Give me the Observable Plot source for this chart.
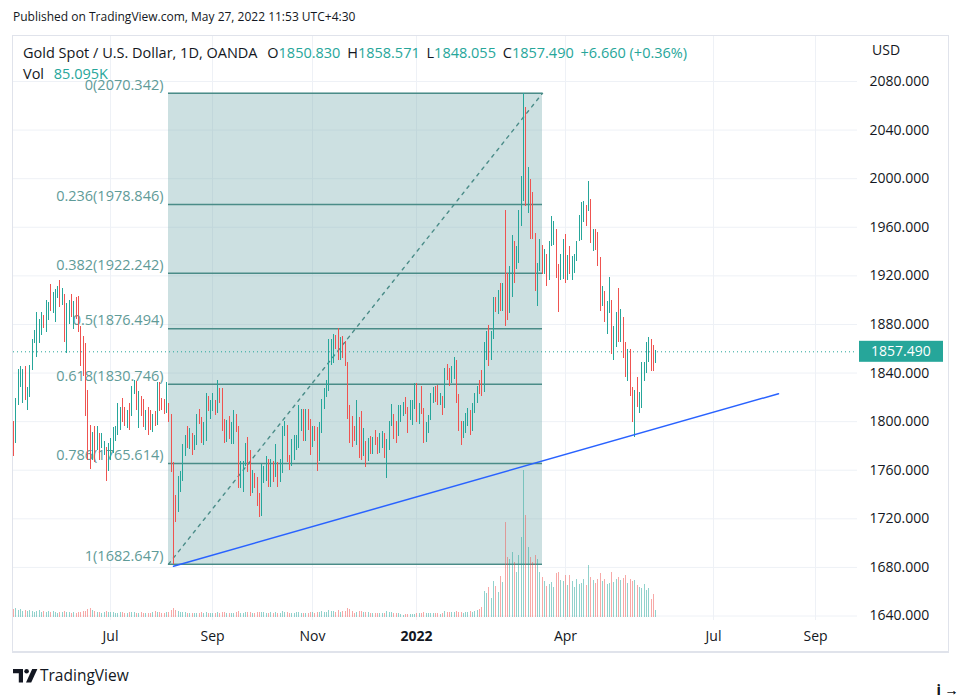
<!DOCTYPE html>
<html><head><meta charset="utf-8">
<script src="https://cdn.jsdelivr.net/npm/d3@7"></script>
<script src="https://cdn.jsdelivr.net/npm/@observablehq/plot@0.6"></script>
<style>
html,body{margin:0;background:#fff;font-family:"Open Sans",sans-serif;color:#131722;overflow:hidden;}
#wrap{position:relative;width:961px;height:697px;overflow:hidden;background:#fff;}
#wrap svg{position:absolute;left:0;top:0;}
.abs{position:absolute;white-space:nowrap;line-height:1;}
.tv{color:#26a69a;}
</style></head><body><div id="wrap"></div>
<script>
// ---------- data ----------
const firstDay = "2021-05-04", lastDay = "2022-09-30";
const closedDays = ["2022-04-15"];
const monthKeys   = ["2021-07","2021-09","2021-11","2022-01","2022-04","2022-07","2022-09"];
const monthLabels = ["Jul","Sep","Nov","2022","Apr","Jul","Sep"];
const priceTicks = [1640,1680,1720,1760,1800,1840,1880,1920,1960,2000,2040,2080];

const open = [
/*May21*/1792,1783,1815,1836,1820,1838,1815,1825,1843,1866,1862,1868,1877,1884,1880,1888,1900,1894,1890,1903,
/*Jun21*/1908,1900,1905,1870,1890,1898,1888,1896,1900,1877,1866,1858,1812,1774,1770,1783,1779,1789,1779,1775,1779,1761,
/*Jul21*/1770,1777,1787,1792,1797,1806,1810,1800,1810,1808,1826,1829,1812,1813,1811,1803,1806,1802,1797,1803,1799,1828,
/*Aug21*/1816,1813,1810,1813,1804,1763,1734,1729,1752,1753,1779,1787,1786,1788,1780,1782,1805,1802,1790,1793,1817,1810,
/*Sep21*/1814,1815,1810,1827,1823,1795,1789,1795,1787,1794,1805,1794,1754,1754,1764,1774,1768,1743,1751,1750,1734,1726,
/*Oct21*/1757,1761,1769,1760,1762,1757,1758,1754,1760,1793,1797,1767,1765,1769,1782,1784,1793,1807,1793,1800,1799,
/*Nov21*/1783,1793,1788,1769,1792,1816,1824,1832,1850,1862,1865,1863,1852,1867,1858,1846,1805,1790,1789,1787,1802,1785,
/*Dec21*/1774,1783,1768,1783,1778,1785,1783,1776,1782,1787,1772,1777,1799,1805,1792,1789,1803,1808,1811,1810,1805,1806,1815,
/*Jan22*/1829,1801,1814,1810,1789,1797,1802,1822,1826,1821,1817,1819,1813,1843,1839,1835,1843,1848,1819,1797,1791,
/*Feb22*/1796,1801,1807,1804,1807,1820,1832,1828,1827,1859,1869,1855,1871,1898,1897,1906,1898,1910,1903,1889,
/*Mar22*/1909,1943,1930,1936,1970,1998,2050,1993,1999,1988,1954,1918,1928,1943,1921,1936,1921,1944,1955,1955,1923,1919,1933,
/*Apr22*/1937,1925,1933,1923,1925,1934,1950,1954,1967,1977,1974,1979,1950,1957,1951,1932,1898,1905,1885,1894,
/*May22*/1897,1863,1868,1881,1876,1883,1854,1838,1852,1822,1811,1824,1814,1816,1841,1846,1853,1866,1853,1850.830
];
const high = [
/*May21*/1800,1819,1843,1845,1843,1845,1828,1846,1868,1875,1890,1884,1890,1887,1900,1898,1913,1906,1909,1911,
/*Jun21*/1916,1910,1905,1897,1900,1905,1899,1902,1903,1878,1870,1864,1826,1797,1791,1796,1796,1790,1790,1784,1779,1782,
/*Jul21*/1786,1795,1796,1815,1812,1819,1812,1809,1815,1829,1834,1833,1825,1821,1818,1809,1812,1809,1806,1808,1832,1832,
/*Aug21*/1819,1818,1832,1815,1806,1766,1739,1755,1759,1781,1789,1796,1794,1790,1789,1806,1810,1803,1799,1823,1821,1817,
/*Sep21*/1823,1817,1834,1827,1827,1802,1801,1804,1799,1809,1806,1796,1767,1767,1782,1787,1776,1760,1757,1754,1741,1765,
/*Oct21*/1763,1771,1769,1769,1767,1781,1766,1769,1796,1800,1797,1772,1785,1789,1789,1813,1810,1810,1810,1810,1802,
/*Nov21*/1796,1796,1795,1799,1818,1827,1834,1868,1868,1872,1871,1877,1869,1870,1866,1849,1813,1804,1796,1817,1803,1808,
/*Dec21*/1794,1784,1786,1788,1787,1793,1787,1790,1792,1790,1785,1800,1814,1806,1800,1813,1813,1816,1820,1812,1817,1817,1831,
/*Jan22*/1831,1815,1829,1811,1799,1805,1823,1828,1829,1830,1823,1821,1844,1847,1844,1845,1853,1850,1822,1800,1800,
/*Feb22*/1807,1811,1809,1815,1823,1829,1834,1842,1865,1874,1879,1874,1902,1902,1908,1914,1914,1974,1922,1928,
/*Mar22*/1953,1948,1944,1974,2002,2070.342,2059,2009,1999,1989,1955,1930,1950,1945,1942,1938,1948,1969,1965,1958,1929,1938,1950,
/*Apr22*/1954,1937,1944,1936,1938,1948,1970,1980,1981,1978,1998,1983,1958,1958,1956,1935,1911,1907,1899,1919,
/*May22*/1900,1878,1890,1910,1892,1886,1865,1859,1859,1828,1826,1836,1824,1849,1849,1865,1869,1868,1863,1858.571
];
const low = [
/*May21*/1771,1782,1813,1828,1815,1817,1809,1820,1842,1864,1853,1864,1871,1877,1873,1883,1891,1889,1882,1901,
/*Jun21*/1894,1896,1865,1856,1880,1886,1876,1884,1873,1845,1837,1804,1768,1761,1768,1766,1776,1768,1778,1772,1751,1759,
/*Jul21*/1768,1774,1784,1789,1793,1799,1796,1794,1793,1804,1822,1809,1794,1804,1795,1793,1789,1793,1791,1796,1797,1808,
/*Aug21*/1809,1806,1807,1799,1758,1682.647,1717,1725,1742,1751,1771,1778,1777,1772,1776,1780,1798,1782,1780,1784,1808,1802,
/*Sep21*/1808,1805,1807,1815,1792,1782,1783,1785,1781,1781,1791,1745,1745,1742,1763,1758,1738,1741,1745,1730,1721,1722,
/*Oct21*/1749,1751,1746,1746,1750,1754,1746,1750,1757,1788,1766,1760,1763,1768,1776,1778,1792,1784,1784,1793,1772,
/*Nov21*/1779,1784,1759,1767,1790,1810,1820,1825,1846,1848,1859,1850,1850,1852,1845,1802,1782,1779,1784,1780,1770,1768,
/*Dec21*/1771,1762,1767,1773,1773,1780,1773,1774,1778,1770,1753,1776,1796,1785,1782,1788,1799,1804,1806,1790,1801,1797,1810,
/*Jan22*/1799,1798,1806,1782,1783,1790,1801,1815,1816,1813,1813,1805,1811,1834,1829,1831,1835,1815,1792,1780,1786,
/*Feb22*/1790,1796,1789,1792,1807,1815,1822,1821,1824,1850,1845,1850,1868,1890,1888,1891,1891,1878,1883,1889,
/*Mar22*/1902,1914,1925,1930,1961,1981,1977,1971,1950,1950,1907,1895,1924,1921,1921,1911,1916,1944,1945,1918,1890,1916,1917,
/*Apr22*/1914,1916,1921,1916,1922,1932,1948,1949,1964,1961,1973,1947,1940,1941,1928,1891,1895,1882,1872,1889,
/*May22*/1855,1850,1861,1865,1865,1852,1836,1833,1821,1799,1787,1812,1807,1811,1833,1840,1849,1841,1841,1848.055
];
const close = [
/*May21*/1779,1815,1838,1843,1838,1822,1825,1843,1866,1869,1881,1878,1884,1880,1897,1896,1895,1903,1905,1908,
/*Jun21*/1900,1908,1870,1891,1898,1892,1896,1890,1877,1866,1858,1812,1774,1764,1783,1779,1789,1776,1781,1780,1761,1770,
/*Jul21*/1777,1787,1792,1797,1803,1802,1808,1806,1807,1826,1829,1812,1813,1811,1803,1806,1802,1797,1799,1799,1828,1814,
/*Aug21*/1813,1810,1813,1804,1763,1729,1729,1752,1753,1779,1787,1786,1788,1780,1782,1805,1802,1790,1793,1817,1810,1814,
/*Sep21*/1815,1810,1827,1823,1795,1789,1795,1787,1794,1805,1794,1754,1754,1764,1774,1768,1743,1751,1750,1734,1726,1757,
/*Oct21*/1761,1769,1760,1762,1757,1758,1754,1760,1793,1797,1767,1765,1769,1782,1784,1793,1807,1793,1798,1799,1783,
/*Nov21*/1793,1788,1769,1792,1816,1824,1832,1850,1862,1865,1863,1852,1867,1858,1846,1805,1790,1789,1787,1802,1785,1774,
/*Dec21*/1783,1768,1783,1778,1785,1783,1776,1782,1787,1772,1777,1799,1805,1792,1789,1803,1808,1811,1810,1805,1806,1815,1829,
/*Jan22*/1801,1814,1810,1789,1797,1802,1822,1826,1821,1817,1819,1813,1843,1839,1835,1843,1848,1819,1797,1791,1796,
/*Feb22*/1801,1807,1804,1807,1820,1826,1828,1827,1859,1869,1855,1871,1898,1897,1906,1898,1910,1903,1889,1909,
/*Mar22*/1943,1922,1936,1970,1998,2050,1993,2000,1988,1954,1918,1928,1943,1921,1936,1921,1944,1958,1959,1923,1919,1933,1937,
/*Apr22*/1925,1933,1923,1925,1931,1946,1954,1967,1977,1974,1979,1950,1957,1951,1932,1898,1905,1885,1894,1897,
/*May22*/1863,1868,1881,1876,1883,1854,1838,1852,1822,1811,1824,1814,1816,1841,1846,1853,1866,1853,1850.830,1857.490
];
// volume, thousands
const volume = [
/*May21*/98,110,86,94,74,83,71,85,76,62,73,86,63,70,58,74,61,69,57,50,
/*Jun21*/61,63,72,59,57,49,58,51,62,60,71,74,99,112,86,70,62,58,49,60,73,64,
/*Jul21*/60,57,45,52,58,61,49,47,57,62,59,51,47,56,48,50,47,49,61,72,58,55,
/*Aug21*/48,46,59,56,88,110,86,71,60,58,55,50,47,49,46,44,47,56,48,57,45,47,
/*Sep21*/49,47,60,44,58,55,49,46,48,45,57,73,52,48,58,56,60,47,50,62,59,56,
/*Oct21*/55,48,47,57,46,60,49,45,70,58,59,46,48,47,56,60,49,47,45,48,57,
/*Nov21*/58,49,62,59,73,57,56,84,72,70,58,82,60,68,70,108,94,72,46,58,72,74,
/*Dec21*/61,58,57,48,47,49,45,48,47,46,70,58,55,47,45,44,36,28,35,33,31,34,36,
/*Jan22*/47,49,46,58,47,48,46,47,45,46,38,47,68,58,55,58,60,73,62,57,49,
/*Feb22*/55,58,70,60,72,80,95,120,318,290,365,232,440,378,305,500,428,1160,730,708,
/*Mar22*/795,670,550,760,980,1790,1245,855,730,670,756,708,550,488,440,378,403,427,366,537,549,451,440,
/*Apr22*/512,390,512,440,366,464,403,415,464,390,634,488,451,415,464,537,440,464,403,415,
/*May22*/549,427,464,488,451,476,512,415,464,440,451,390,366,354,403,330,354,220,280,85.095
];

const fibRatios = [0, 0.236, 0.382, 0.5, 0.618, 0.786, 1];
const fibPrices = [2070.342, 1978.846, 1922.242, 1876.494, 1830.746, 1765.614, 1682.647];
const fibDates  = ["2021-08-05", "2022-03-18"];
const trendDates  = ["2021-08-09", "2022-08-10"];
const trendPrices = [1681, 1823];

// ---------- trading-day axis ----------
const tradingDays = [];
for (let d = new Date(firstDay + "T00:00:00Z"); d <= new Date(lastDay + "T00:00:00Z"); d.setUTCDate(d.getUTCDate() + 1)) {
  const wd = d.getUTCDay(), iso = d.toISOString().slice(0, 10);
  if (wd !== 0 && wd !== 6 && !closedDays.includes(iso)) tradingDays.push(iso);
}
const idxOf = new Map(tradingDays.map((d, i) => [d, i]));
const bars = open.map((o, i) => ({i, date: tradingDays[i], open: o, high: high[i], low: low[i], close: close[i], volume: volume[i]}));
const tickIdx = monthKeys.map(m => tradingDays.findIndex(d => d.startsWith(m)));
const labelOf = new Map(tickIdx.map((t, j) => [t, monthLabels[j]]));
const boldTicks = tickIdx.filter(t => labelOf.get(t) === "2022");
const normTicks = tickIdx.filter(t => labelOf.get(t) !== "2022");

const fi0 = idxOf.get(fibDates[0]), fi1 = idxOf.get(fibDates[1]);
const fibLevels = fibRatios.map((r, j) => ({ratio: r, price: fibPrices[j]}));
const fibDiag = [{i: fi0, p: fibPrices[6]}, {i: fi1, p: fibPrices[0]}];
const trend = trendDates.map((d, j) => ({i: idxOf.get(d), p: trendPrices[j]}));

const teal = "#26a69a", red = "#ef5350";
const candleColor = d => d.close >= d.open ? teal : red;
const last = bars[bars.length - 1], prev = bars[bars.length - 2];
const f3 = d3.format(".3f");

const xOpt = {type: "linear", domain: [-0.06, 364.05], round: true, axis: null};

const main = Plot.plot({
  width: 961, height: 697, marginLeft: 13, marginRight: 104, marginTop: 35, marginBottom: 77,
  style: {fontFamily: "Open Sans", fontSize: "14px", color: "#131722", background: "transparent", overflow: "visible"},
  x: xOpt,
  y: {domain: [1636.3, 2117.87], axis: null},
  marks: [
    Plot.gridY(priceTicks, {stroke: "#eef1f6", strokeOpacity: 1}),
    Plot.gridX(tickIdx, {stroke: "#eef1f6", strokeOpacity: 1}),
    Plot.rect([0], {x1: () => fi0, x2: () => fi1, y1: () => fibPrices[6], y2: () => fibPrices[0], fill: "#7fb1b3", fillOpacity: 0.4}),
    Plot.ruleY(fibLevels, {y: "price", x1: () => fi0, x2: () => fi1, stroke: "#4a8c88", strokeWidth: 1.5}),
    Plot.text(fibLevels, {x: () => fi0, y: "price", text: d => `${d.ratio}(${f3(d.price)})`, textAnchor: "end", dx: -5, dy: -8, fill: "#5f9b98", fontSize: 14.5}),
    Plot.line(fibDiag, {x: "i", y: "p", stroke: "#4a8c88", strokeWidth: 1.4, strokeDasharray: "3,5"}),
    Plot.ruleY([last.close], {stroke: teal, strokeWidth: 1, strokeDasharray: "1,3"}),
    Plot.ruleX(bars, {x: "i", y1: "low", y2: "high", stroke: candleColor, strokeWidth: 1, shapeRendering: "crispEdges"}),
    Plot.line(trend, {x: "i", y: "p", stroke: "#2962ff", strokeWidth: 1.5}),
    Plot.axisY(priceTicks, {anchor: "right", tickSize: 0, tickPadding: 12, tickFormat: f3, fontSize: 14, fill: "#131722"}),
    Plot.axisX(normTicks, {anchor: "bottom", tickSize: 0, tickPadding: 11, tickFormat: d => labelOf.get(d), fontSize: 14, fill: "#131722"}),
    Plot.axisX(boldTicks, {anchor: "bottom", tickSize: 0, tickPadding: 11, tickFormat: d => labelOf.get(d), fontSize: 14, fontWeight: "bold", fill: "#131722"})
  ]
});

// last-price tag on the price axis, positioned through the y scale
const yy = main.scale("y").apply(last.close);
const ms = d3.select(main);
ms.append("rect").attr("x", 859).attr("y", yy - 10.5).attr("width", 84).attr("height", 21).attr("fill", teal);
ms.append("text").attr("x", 871).attr("y", yy).attr("dy", "0.36em").attr("fill", "#fff")
  .attr("text-anchor", "start").attr("font-family", "Open Sans").attr("font-size", 14).text(f3(last.close));

const vol = Plot.plot({
  width: 961, height: 697, marginLeft: 13, marginRight: 104, marginTop: 453, marginBottom: 80,
  style: {background: "transparent", overflow: "visible"},
  x: xOpt,
  y: {domain: [0, 2000], axis: null},
  marks: [
    Plot.ruleX(bars, {x: "i", y1: 0, y2: "volume", stroke: candleColor, strokeOpacity: 0.5, strokeWidth: 1, shapeRendering: "crispEdges"})
  ]
});

[main, vol].forEach(s => d3.select(s).selectAll("text").filter(function () {
  return /⚠|warning/i.test(this.textContent);
}).remove());

const wrap = document.getElementById("wrap");
const frame = document.createElement("div");
frame.style.cssText = "position:absolute;left:12px;top:35px;width:935px;height:615px;border:1px solid #e0e3eb;border-bottom:2px solid #e0e3eb;";
wrap.appendChild(main);
wrap.appendChild(vol);
wrap.appendChild(frame);
const clip = document.createElement("div");
clip.style.cssText = "position:absolute;left:858px;top:620px;width:89px;height:30px;background:#fff;";
wrap.appendChild(clip);

const chg = last.close - prev.close;
const html = `
<div class="abs" style="left:13px;top:11px;font-size:12px;color:#131722">Published on TradingView.com, May 27, 2022 11:53 UTC+4:30</div>
<div class="abs" style="left:23px;top:46px;font-size:14.5px;color:#131722">Gold Spot / U.S. Dollar, 1D, OANDA
 <span style="margin-left:6px">O</span><span class="tv">${f3(last.open)}</span>
 <span style="margin-left:3px">H</span><span class="tv">${f3(last.high)}</span>
 <span style="margin-left:3px">L</span><span class="tv">${f3(last.low)}</span>
 <span style="margin-left:3px">C</span><span class="tv">${f3(last.close)}</span>
 <span class="tv" style="margin-left:3px">${chg >= 0 ? "+" : ""}${f3(chg)} (${chg >= 0 ? "+" : ""}${(chg / prev.close * 100).toFixed(2)}%)</span></div>
<div class="abs" style="left:23px;top:67px;font-size:14.5px;color:#131722">Vol <span class="tv" style="margin-left:6px">${f3(last.volume)}K</span></div>
<div class="abs" style="left:872px;top:43px;font-size:14px;color:#131722">USD</div>
<div class="abs" style="left:13px;top:669px;">
<svg width="26" height="14" viewBox="0 0 26 14"><path d="M0 0h10v13.5h-4.2v-9.3h-5.8z" fill="#131722"/><circle cx="13.6" cy="2.3" r="2.3" fill="#131722"/><path d="M19.2 0h5.2l-6.2 13.5h-5.2z" fill="#131722"/></svg></div>
<div class="abs" style="left:40px;top:668px;font-size:15.5px;color:#131722">TradingView</div>`;
wrap.insertAdjacentHTML("beforeend", html);
</script></body></html>
